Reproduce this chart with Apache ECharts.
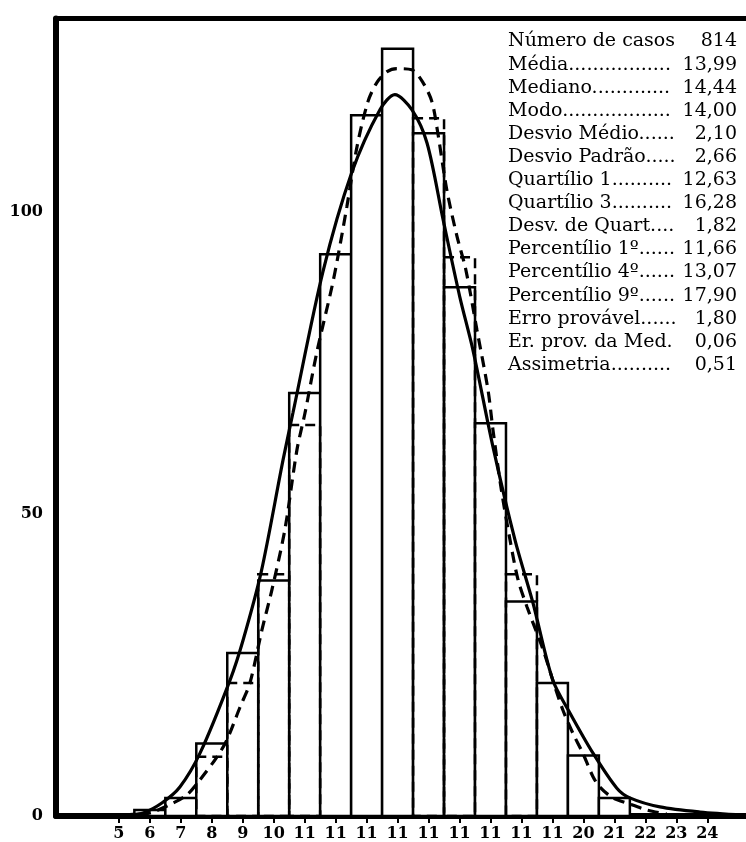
<!DOCTYPE html>
<html>
<head>
<meta charset="utf-8">
<script src="https://cdn.jsdelivr.net/npm/echarts@6/dist/echarts.min.js"></script>
<style>
html,body{margin:0;padding:0;background:#fff;}
#chart{width:746px;height:842px;}
</style>
</head>
<body>
<div id="chart"></div>
<script>
// ---- data ----
const xLabels = ['5','6','7','8','9','10','11','11','11','11','11','11','11','11','11','20','21','22','23','24'];
const freq = [0,1,3,12,27,39,70,93,116,127,113,87.5,65,35.5,22,10,3,0,0,0];
const dashedStepBins = [3,4,5,6,10,11,13];
const dashedStepValues = [9.8,22,40,64.7,115.5,92.5,40];
const solidCurveX = [-0.1,0.3,0.78,1.4,1.97,2.62,3.59,4.01,4.6,5.3,5.62,6.59,7.52,8.43,8.91,9.46,9.95,10.47,11.01,11.43,12.08,12.79,13.37,14.01,14.56,15.31,16.08,16.5,17.47,18.76,20.15];
const solidCurveY = [0,0.2,0.5,2.2,4.8,10.4,22.5,29.1,40.5,58.9,66.7,90.1,106.5,116.9,119.4,116.9,111.4,98.7,85.9,77.2,61.1,45.7,35.3,22.5,17.1,10.4,4.6,3.0,1.5,0.66,0.17];
const dashedCurveX = [0.68,1.10,1.75,2.20,2.62,3.17,3.49,3.91,4.23,4.62,4.94,5.36,5.75,6.01,6.39,6.88,7.07,7.36,7.69,8.04,8.33,8.66,8.98,9.46,9.82,10.11,10.3,10.59,10.92,11.2,11.56,11.92,12.08,12.35,12.63,12.89,13.18,13.70,14.01,14.34,14.66,14.98,15.31,15.53,15.95,16.40,17.05,17.69];
const dashedCurveY = [0.17,0.66,2.15,3.5,6.0,9.8,12.6,18.0,22.0,30.8,37.4,47.4,60.6,66.7,76.7,87.6,92.5,100.8,110.8,118.2,121.4,123.2,123.7,123.5,121.4,118.2,113,103.6,95.9,90.5,80.5,70.5,63.9,54,45.7,39.1,34.6,27.5,22.5,17.5,13.7,10.4,6.5,4.8,3.0,2.15,1.0,0.33];
const yTickValues = [0,50,100];
const statLabels = ['Número de casos','Média.................','Mediano.............','Modo..................','Desvio Médio......','Desvio Padrão.....','Quartílio 1..........','Quartílio 3..........','Desv. de Quart....','Percentílio 1º......','Percentílio 4º......','Percentílio 9º......','Erro provável......','Er. prov. da Med.','Assimetria..........'];
const statValues = ['814','13,99','14,44','14,00','2,10','2,66','12,63','16,28','1,82','11,66','13,07','17,90','1,80','0,06','0,51'];

// ---- chart ----
const chart = echarts.init(document.getElementById('chart'), null, {renderer:'canvas'});
const idx = xLabels.map((_, i) => i);
const serifBold = {fontFamily:'DejaVu Serif', fontWeight:'bold', fontSize:16, color:'#000'};

const statGraphics = [];
statLabels.forEach((t, i) => {
  statGraphics.push({type:'text', left:508, top:32 + i*23.1, style:{text:t, font:'19px "DejaVu Serif"', fill:'#000'}});
  statGraphics.push({type:'text', right:9, top:32 + i*23.1, style:{text:statValues[i], font:'19px "DejaVu Serif"', fill:'#000'}});
});

const option = {
  animation:false,
  backgroundColor:'#fff',
  grid:{left:56, right:0, top:18.5, bottom:26, containLabel:false, outerBoundsMode:'none'},
  xAxis:[{
    type:'value', min:-2.03, max:20.25, position:'bottom',
    axisLine:{show:true, onZero:false, lineStyle:{color:'#000', width:6}},
    axisTick:{show:true, customValues:idx, length:7, lineStyle:{color:'#000', width:2}},
    axisLabel:Object.assign({customValues:idx, margin:10, formatter:v => xLabels[Math.round(v)]}, serifBold),
    splitLine:{show:false}
  },{
    type:'value', min:-2.03, max:20.25, position:'top',
    axisLine:{show:true, onZero:false, lineStyle:{color:'#000', width:5}},
    axisTick:{show:false}, axisLabel:{show:false}, splitLine:{show:false}
  }],
  yAxis:{
    type:'value', min:0, max:132,
    axisLine:{show:true, onZero:false, lineStyle:{color:'#000', width:6}},
    axisTick:{show:false},
    axisLabel:Object.assign({customValues:yTickValues, margin:13}, serifBold),
    splitLine:{show:false}
  },
  graphic:statGraphics,
  series:[
    {
      type:'custom', z:2,
      renderItem:(params, api) => {
        const i = api.value(0), h = api.value(1);
        const p0 = api.coord([i - 0.5, h]);
        const p1 = api.coord([i + 0.5, 0]);
        return {type:'rect', shape:{x:p0[0], y:p0[1], width:p1[0]-p0[0], height:p1[1]-p0[1]},
          style:{fill:'#fff', stroke:'#000', lineWidth:2.5}};
      },
      data:freq.map((v, i) => [i, v]).filter(d => d[1] > 0)
    },
    {
      type:'custom', z:3,
      renderItem:(params, api) => {
        const i = api.value(0), h = api.value(1);
        const p0 = api.coord([i - 0.5, h]);
        const p1 = api.coord([i + 0.5, 0]);
        return {type:'rect', shape:{x:p0[0], y:p0[1], width:p1[0]-p0[0], height:p1[1]-p0[1]},
          style:{fill:'none', stroke:'#000', lineWidth:2.5, lineDash:[10,6]}};
      },
      data:dashedStepBins.map((b, k) => [b, dashedStepValues[k]])
    },
    {
      type:'line', z:4, smooth:0.3, showSymbol:false, symbol:'none',
      lineStyle:{color:'#000', width:3.2},
      data:solidCurveX.map((x, i) => [x, solidCurveY[i]])
    },
    {
      type:'line', z:4, smooth:0.3, showSymbol:false, symbol:'none',
      lineStyle:{color:'#000', width:3.2, type:[11,7]},
      data:dashedCurveX.map((x, i) => [x, dashedCurveY[i]])
    }
  ]
};
chart.setOption(option);
</script>
</body>
</html>
